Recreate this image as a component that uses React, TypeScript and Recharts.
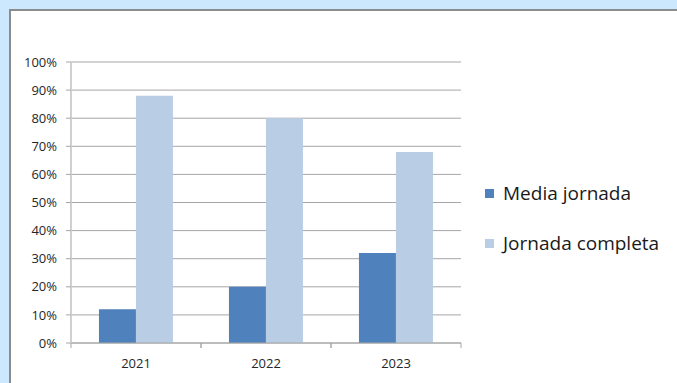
import React from 'react'
import { BarChart, Bar, XAxis, YAxis, CartesianGrid, Legend } from 'recharts'

const years = ['2021', '2022', '2023']
const mediaJornada = [12, 20, 32]
const jornadaCompleta = [88, 80, 68]
const yTicks = [0, 10, 20, 30, 40, 50, 60, 70, 80, 90, 100]

const seriesNames = ['Media jornada', 'Jornada completa']
const seriesColors = ['#4f81bd', '#b9cde5']

const data = years.map((year, i) => ({
  year,
  media: mediaJornada[i],
  completa: jornadaCompleta[i],
}))

const FONT = '"Open Sans", "Liberation Sans", sans-serif'
const HALF_BAND = 65

function YearTick({ x, y, payload }: any) {
  return (
    <g>
      <line x1={x - HALF_BAND} y1={y} x2={x - HALF_BAND} y2={y + 5} stroke="#a6a6a6" />
      <line x1={x + HALF_BAND} y1={y} x2={x + HALF_BAND} y2={y + 5} stroke="#a6a6a6" />
      <text x={x} y={y + 25} textAnchor="middle" fontSize={13} fontFamily={FONT} fill="#262626">
        {payload.value}
      </text>
    </g>
  )
}

function LegendBox() {
  return (
    <div style={{ fontFamily: FONT, fontSize: 19, color: '#1a1a1a' }}>
      {seriesNames.map((name, i) => (
        <div key={name} style={{ display: 'flex', alignItems: 'center', height: 50 }}>
          <span style={{ width: 9, height: 9, background: seriesColors[i], marginRight: 9 }} />
          <span>{name}</span>
        </div>
      ))}
    </div>
  )
}

export default function App() {
  return (
    <div style={{ position: 'absolute', left: 0, top: 0, width: 677, height: 383, background: '#cce8ff', overflow: 'hidden' }}>
      <div
        style={{
          position: 'absolute',
          left: 9,
          top: 9,
          width: 668,
          height: 374,
          background: '#fff',
          borderTop: '2px solid #8c8c8c',
          borderLeft: '2px solid #8c8c8c',
        }}
      >
        <BarChart
          width={666}
          height={372}
          data={data}
          margin={{ top: 51, right: 216, left: 0, bottom: 10 }}
          barCategoryGap="21.5%"
          barGap={0}
        >
          <CartesianGrid vertical={false} stroke="#a6a6a6" />
          <XAxis
            dataKey="year"
            stroke="#a6a6a6"
            tickLine={false}
            tickSize={0}
            tickMargin={0}
            height={30}
            tick={<YearTick />}
          />
          <YAxis
            width={60}
            domain={[0, 100]}
            ticks={yTicks}
            tickFormatter={(v) => v + '%'}
            axisLine={{ stroke: '#d0d0d0', strokeWidth: 2 }}
            tickLine={{ stroke: '#a6a6a6' }}
            tickSize={5}
            tickMargin={9}
            tick={{ fontSize: 13, fontFamily: FONT, fill: '#262626' }}
          />
          <Legend
            layout="horizontal"
            verticalAlign="middle"
            align="center"
            content={() => <LegendBox />}
            wrapperStyle={{ left: 474, top: 157, width: 'auto' }}
          />
          <Bar dataKey="media" name={seriesNames[0]} fill={seriesColors[0]} isAnimationActive={false} />
          <Bar dataKey="completa" name={seriesNames[1]} fill={seriesColors[1]} isAnimationActive={false} />
        </BarChart>
      </div>
    </div>
  )
}
